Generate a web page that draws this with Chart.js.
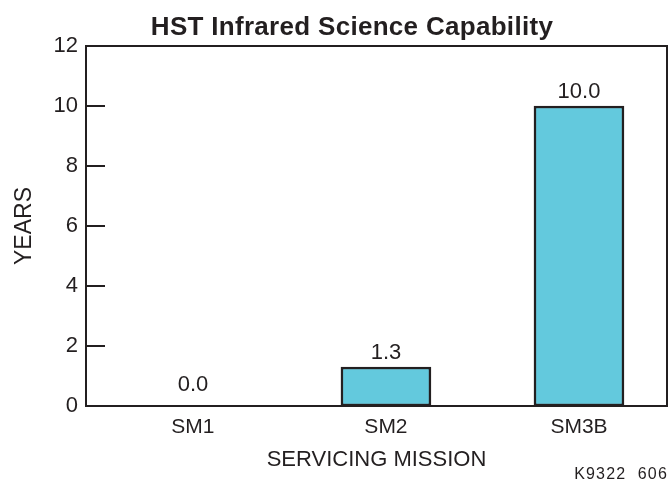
<!DOCTYPE html>
<html>
<head>
<meta charset="utf-8">
<script src="https://cdn.jsdelivr.net/npm/chart.js@4/dist/chart.umd.min.js"></script>
<style>
  html, body { margin: 0; padding: 0; background: #fff; }
  #wrap { width: 671px; height: 483px; position: relative; }
</style>
</head>
<body>
<div id="wrap"><canvas id="chart"></canvas></div>
<script>
const missions = ['SM1', 'SM2', 'SM3B']
const years = [0.0, 1.3, 10.0]
const yTicks = [0, 2, 4, 6, 8, 10, 12]

const ink = '#231f20'
const font = 'Arial, "Liberation Sans", Helvetica, sans-serif'

// frame, inner ticks, value labels, title and figure id
const decorations = {
  id: 'decorations',
  afterDatasetsDraw(chart) {
    const { ctx, chartArea: a, scales } = chart
    ctx.save()
    ctx.strokeStyle = ink
    ctx.lineWidth = 2
    ctx.strokeRect(a.left, a.top, a.right - a.left, a.bottom - a.top)

    yTicks.slice(1, -1).forEach(v => {
      const y = Math.round(scales.y.getPixelForValue(v))
      ctx.beginPath()
      ctx.moveTo(a.left, y)
      ctx.lineTo(a.left + 19, y)
      ctx.stroke()
    })

    ctx.fillStyle = ink
    ctx.font = '22px ' + font
    ctx.textAlign = 'center'
    ctx.textBaseline = 'alphabetic'
    chart.getDatasetMeta(0).data.forEach((bar, i) => {
      const gap = years[i] === 0 ? 15 : 8
      ctx.fillText(years[i].toFixed(1), bar.x, bar.y - gap)
    })

    ctx.font = 'bold 26px ' + font
    ctx.letterSpacing = '0.3px'
    ctx.fillText('HST Infrared Science Capability', 352, 35)

    ctx.font = '16px ' + font
    ctx.letterSpacing = '1.2px'
    ctx.textAlign = 'right'
    ctx.fillText('K9322  606', 668, 479)
    ctx.restore()
  }
}

const config = {
  type: 'bar',
  data: {
    datasets: [
      {
        data: years.map((v, i) => ({ x: i + 1, y: v })),
        backgroundColor: '#63c9dd',
        borderColor: ink,
        borderWidth: 2.5,
        borderSkipped: false,
        barThickness: 90
      }
    ]
  },
  options: {
    responsive: true,
    maintainAspectRatio: false,
    animation: false,
    layout: {
      padding: { top: 46, right: 4, bottom: 0, left: 0 }
    },
    scales: {
      x: {
        type: 'linear',
        offset: false,
        min: 0.446,
        max: 3.456,
        afterBuildTicks: scale => {
          scale.ticks = missions.map((m, i) => ({ value: i + 1 }))
        },
        afterFit: scale => { scale.height = 77 },
        ticks: {
          callback: v => missions[v - 1],
          color: ink,
          padding: 9,
          maxRotation: 0,
          font: { family: font, size: 21 }
        },
        grid: { display: false, drawTicks: false },
        border: { display: false },
        title: {
          display: true,
          text: 'SERVICING MISSION',
          color: ink,
          padding: { top: 0, bottom: 10 },
          font: { family: font, size: 22 }
        }
      },
      y: {
        min: 0,
        max: 12,
        afterBuildTicks: scale => {
          scale.ticks = yTicks.map(v => ({ value: v }))
        },
        afterFit: scale => { scale.width = 86 },
        ticks: {
          color: ink,
          padding: 8,
          font: { family: font, size: 22 }
        },
        grid: { display: false, drawTicks: false },
        border: { display: false },
        title: {
          display: true,
          text: 'YEARS',
          color: ink,
          padding: { top: 11, bottom: 0 },
          font: { family: font, size: 23 }
        }
      }
    },
    plugins: {
      legend: { display: false },
      tooltip: { enabled: false },
      title: { display: false }
    }
  },
  plugins: [decorations]
}

new Chart(document.getElementById('chart').getContext('2d'), config)
</script>
</body>
</html>
